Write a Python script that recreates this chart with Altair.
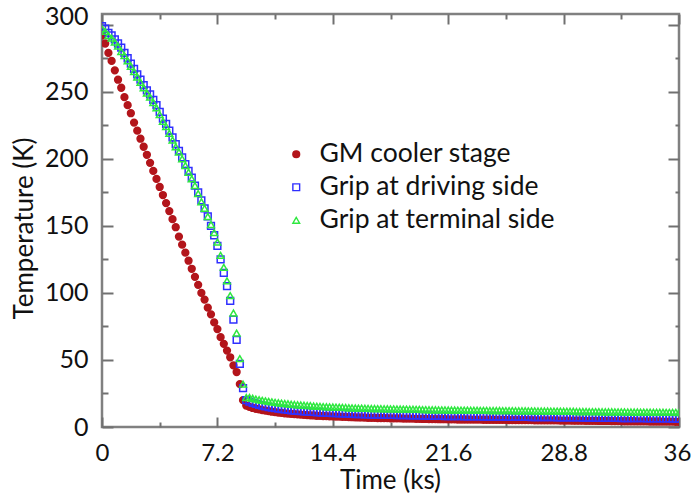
import altair as alt
import pandas as pd

FONT = "Lato"

series_names = ["GM cooler stage", "Grip at driving side", "Grip at terminal side"]
stroke_colors = ["#b3151b", "#2f2fff", "#2ee83f"]
fill_colors = ["#b3151b", "transparent", "transparent"]
shapes = ["circle", "square", "triangle-up"]
sizes = [46, 46, 64]

# time grid (ks)
times_decline = [0.0, 0.2, 0.4, 0.6, 0.8, 1.0, 1.2, 1.4, 1.6, 1.8,
                 2.0, 2.2, 2.4, 2.6, 2.8, 3.0, 3.2, 3.4, 3.6, 3.8,
                 4.0, 4.2, 4.4, 4.6, 4.8, 5.0, 5.2, 5.4, 5.6, 5.8,
                 6.0, 6.2, 6.4, 6.6, 6.8, 7.0, 7.2, 7.4, 7.6, 7.8,
                 8.0, 8.2, 8.4, 8.6, 8.8, 9.0]
times_tail = [9.2, 9.4, 9.6, 9.8, 10.0, 10.2, 10.4, 10.6, 10.8, 11.0,
              11.2, 11.4, 11.6, 11.8, 12.0, 12.2, 12.4, 12.6, 12.8, 13.0,
              13.2, 13.4, 13.6, 13.8, 14.0, 14.2, 14.4, 14.6, 14.8, 15.0,
              15.2, 15.4, 15.6, 15.8, 16.0, 16.2, 16.4, 16.6, 16.8, 17.0,
              17.2, 17.4, 17.6, 17.8, 18.0, 18.2, 18.4, 18.6, 18.8, 19.0,
              19.2, 19.4, 19.6, 19.8, 20.0, 20.2, 20.4, 20.6, 20.8, 21.0,
              21.2, 21.4, 21.6, 21.8, 22.0, 22.2, 22.4, 22.6, 22.8, 23.0,
              23.2, 23.4, 23.6, 23.8, 24.0, 24.2, 24.4, 24.6, 24.8, 25.0,
              25.2, 25.4, 25.6, 25.8, 26.0, 26.2, 26.4, 26.6, 26.8, 27.0,
              27.2, 27.4, 27.6, 27.8, 28.0, 28.2, 28.4, 28.6, 28.8, 29.0,
              29.2, 29.4, 29.6, 29.8, 30.0, 30.2, 30.4, 30.6, 30.8, 31.0,
              31.2, 31.4, 31.6, 31.8, 32.0, 32.2, 32.4, 32.6, 32.8, 33.0,
              33.2, 33.4, 33.6, 33.8, 34.0, 34.2, 34.4, 34.6, 34.8, 35.0,
              35.2, 35.4, 35.6, 35.8, 36.0]

# temperatures (K)
gm_decline = [292, 286, 279, 273, 266, 259, 253, 246, 240, 234,
              227, 221, 215, 209, 203, 197, 191, 185, 179, 173,
              167, 161, 155, 149, 142, 136, 130, 124, 118, 112,
              106, 100, 95, 89, 84, 78, 73, 67, 62, 57,
              52, 46, 41, 32, 20, 16]
gm_tail = [15.0, 14.2, 13.6, 13.1, 12.6, 12.2, 11.8, 11.4, 11.1, 10.8,
           10.5, 10.2, 10.0, 9.8, 9.6, 9.4, 9.2, 9.0, 8.9, 8.7,
           8.6, 8.4, 8.3, 8.2, 8.1, 8.0, 7.9, 7.8, 7.7, 7.6,
           7.5, 7.4, 7.3, 7.2, 7.1, 7.1, 7.0, 6.9, 6.8, 6.8,
           6.7, 6.7, 6.6, 6.6, 6.5, 6.5, 6.4, 6.4, 6.3, 6.3,
           6.2, 6.2, 6.1, 6.1, 6.0, 6.0, 5.9, 5.9, 5.9, 5.8,
           5.8, 5.8, 5.7, 5.7, 5.7, 5.6, 5.6, 5.6, 5.6, 5.5,
           5.5, 5.5, 5.5, 5.4, 5.4, 5.4, 5.4, 5.3, 5.3, 5.3,
           5.3, 5.2, 5.2, 5.2, 5.2, 5.1, 5.1, 5.1, 5.1, 5.0,
           5.0, 5.0, 5.0, 4.9, 4.9, 4.9, 4.9, 4.8, 4.8, 4.8,
           4.8, 4.7, 4.7, 4.7, 4.7, 4.6, 4.6, 4.6, 4.6, 4.5,
           4.5, 4.5, 4.5, 4.4, 4.4, 4.4, 4.4, 4.3, 4.3, 4.3,
           4.3, 4.2, 4.2, 4.2, 4.2, 4.1, 4.1, 4.1, 4.1, 4.0,
           4.0, 4.0, 4.0, 3.9, 3.9]

drive_decline = [299, 297, 294, 292, 289, 286, 283, 279, 275, 271,
                 267, 263, 259, 255, 251, 248, 244, 240, 235, 230,
                 226, 221, 216, 211, 206, 201, 196, 191, 186, 180,
                 175, 169, 163, 157, 150, 143, 135, 125, 115, 105,
                 94, 80, 65, 47, 29, 20]
drive_tail = [19.0, 18.0, 17.2, 16.5, 15.9, 15.4, 14.9, 14.5, 14.1, 13.7,
              13.4, 13.1, 12.8, 12.5, 12.3, 12.1, 11.9, 11.7, 11.5, 11.3,
              11.2, 11.0, 10.9, 10.7, 10.6, 10.5, 10.4, 10.3, 10.2, 10.1,
              10.0, 9.9, 9.8, 9.7, 9.6, 9.6, 9.5, 9.4, 9.3, 9.3,
              9.2, 9.2, 9.1, 9.1, 9.0, 9.0, 8.9, 8.9, 8.8, 8.8,
              8.7, 8.7, 8.6, 8.6, 8.5, 8.5, 8.4, 8.4, 8.3, 8.3,
              8.3, 8.2, 8.2, 8.2, 8.1, 8.1, 8.1, 8.0, 8.0, 8.0,
              7.9, 7.9, 7.9, 7.8, 7.8, 7.8, 7.8, 7.7, 7.7, 7.7,
              7.6, 7.6, 7.6, 7.6, 7.5, 7.5, 7.5, 7.5, 7.4, 7.4,
              7.4, 7.4, 7.3, 7.3, 7.3, 7.3, 7.2, 7.2, 7.2, 7.2,
              7.1, 7.1, 7.1, 7.1, 7.0, 7.0, 7.0, 7.0, 6.9, 6.9,
              6.9, 6.9, 6.8, 6.8, 6.8, 6.8, 6.7, 6.7, 6.7, 6.7,
              6.6, 6.6, 6.6, 6.6, 6.5, 6.5, 6.5, 6.5, 6.4, 6.4,
              6.4, 6.4, 6.3, 6.3, 6.3]

term_decline = [297, 295, 292, 290, 287, 284, 280, 277, 273, 269,
                265, 261, 257, 253, 249, 246, 242, 238, 233, 228,
                224, 219, 214, 209, 205, 200, 195, 190, 185, 180,
                174, 168, 163, 157, 151, 145, 138, 128, 119, 109,
                98, 85, 70, 51, 32, 22]
term_tail = [22.0, 21.4, 20.8, 20.3, 19.9, 19.5, 19.1, 18.7, 18.4, 18.1,
             17.8, 17.5, 17.3, 17.0, 16.8, 16.6, 16.4, 16.2, 16.0, 15.9,
             15.7, 15.5, 15.4, 15.2, 15.1, 15.0, 14.9, 14.8, 14.7, 14.6,
             14.5, 14.4, 14.3, 14.2, 14.1, 14.1, 14.0, 13.9, 13.8, 13.8,
             13.7, 13.7, 13.6, 13.6, 13.5, 13.5, 13.4, 13.4, 13.3, 13.3,
             13.2, 13.2, 13.1, 13.1, 13.0, 13.0, 12.9, 12.9, 12.9, 12.8,
             12.8, 12.8, 12.7, 12.7, 12.7, 12.6, 12.6, 12.6, 12.6, 12.5,
             12.5, 12.5, 12.4, 12.4, 12.4, 12.3, 12.3, 12.3, 12.3, 12.2,
             12.2, 12.2, 12.2, 12.1, 12.1, 12.1, 12.1, 12.0, 12.0, 12.0,
             11.9, 11.9, 11.9, 11.9, 11.8, 11.8, 11.8, 11.8, 11.7, 11.7,
             11.7, 11.7, 11.6, 11.6, 11.6, 11.6, 11.5, 11.5, 11.5, 11.5,
             11.4, 11.4, 11.4, 11.4, 11.3, 11.3, 11.3, 11.3, 11.2, 11.2,
             11.2, 11.2, 11.1, 11.1, 11.1, 11.1, 11.0, 11.0, 11.0, 11.0,
             10.9, 10.9, 10.9, 10.9, 10.8]

x_tick_values = [0, 3.6, 7.2, 10.8, 14.4, 18, 21.6, 25.2, 28.8, 32.4, 36]
y_tick_values = [0, 25, 50, 75, 100, 125, 150, 175, 200, 225, 250, 275, 300]

times = times_decline + times_tail
rows = []
for name, vals in [(series_names[0], gm_decline + gm_tail),
                   (series_names[1], drive_decline + drive_tail),
                   (series_names[2], term_decline + term_tail)]:
    for t, v in zip(times, vals):
        rows.append({"t": t, "T": v, "series": name})
df = pd.DataFrame(rows)

TICK_COLOR = "#707070"
x_major_test = "round(datum.value*10) % 72 === 0"
y_major_test = "datum.value % 50 === 0"

xscale = alt.Scale(domain=[0, 36], nice=False, zero=False)
yscale = alt.Scale(domain=[0, 308], nice=False, zero=False)

legend = alt.Legend(title=None, orient="none", legendX=181, legendY=127,
                    labelFont=FONT, labelFontSize=26.5, labelColor="#111111",
                    symbolSize=80, symbolStrokeWidth=1.4, rowPadding=6,
                    labelOffset=10, labelLimit=600, padding=0)

points = alt.Chart(df).mark_point(filled=False, strokeWidth=1.5, clip=True, opacity=1).encode(
    x=alt.X("t:Q", scale=xscale,
            axis=alt.Axis(orient="bottom", values=x_tick_values, domain=False, grid=False,
                          tickSize=alt.expr(f"{x_major_test} ? -10 : -5"),
                          tickColor=TICK_COLOR, tickWidth=2,
                          labelExpr=f"{x_major_test} ? format(datum.value, '~g') : ''",
                          labelOffset=alt.expr("datum.value === 36 ? -2 : 0"),
                          labelFont=FONT, labelFontSize=24, labelColor="#111111",
                          labelPadding=43, labelBaseline="alphabetic", labelAlign="center",
                          labelFlush=False, labelOverlap=False,
                          title="Time (ks)", titleFont=FONT, titleFontSize=26,
                          titleFontWeight="normal", titleColor="#111111",
                          titleX=288, titleY=61, titleBaseline="alphabetic", titleAlign="center")),
    y=alt.Y("T:Q", scale=yscale,
            axis=alt.Axis(orient="left", values=y_tick_values, domain=False, grid=False,
                          tickSize=alt.expr(f"{y_major_test} ? -11 : -6"),
                          tickColor=TICK_COLOR, tickWidth=2,
                          labelExpr=f"{y_major_test} ? datum.label : ''",
                          labelOffset=alt.expr("datum.value === 300 ? -8 : 0"),
                          labelFont=FONT, labelFontSize=25, labelColor="#111111",
                          labelPadding=25, labelFlush=False, labelOverlap=False,
                          title="Temperature (K)", titleFont=FONT, titleFontSize=26,
                          titleFontWeight="normal", titleColor="#111111",
                          titleX=-70, titleY=214, titleAngle=270,
                          titleBaseline="alphabetic", titleAlign="center")),
    color=alt.Color("series:N", scale=alt.Scale(domain=series_names, range=stroke_colors), legend=legend),
    fill=alt.Fill("series:N", scale=alt.Scale(domain=series_names, range=fill_colors), legend=legend),
    shape=alt.Shape("series:N", scale=alt.Scale(domain=series_names, range=shapes), legend=legend),
    size=alt.Size("series:N", scale=alt.Scale(domain=series_names, range=sizes), legend=None),
)

mirror = alt.Chart(df).mark_point(opacity=0, size=1).encode(
    x=alt.X("t:Q", scale=xscale,
            axis=alt.Axis(orient="top", values=x_tick_values, domain=False, grid=False,
                          labels=False, title=None,
                          tickSize=alt.expr(f"{x_major_test} ? -10 : -5"),
                          tickColor=TICK_COLOR, tickWidth=2)),
    y=alt.Y("T:Q", scale=yscale,
            axis=alt.Axis(orient="right", values=y_tick_values, domain=False, grid=False,
                          labels=False, title=None,
                          tickSize=alt.expr(f"{y_major_test} ? -11 : -4"),
                          tickColor=TICK_COLOR, tickWidth=2)),
)

chart = alt.layer(points, mirror).resolve_axis(x="independent", y="independent").properties(
    width=577, height=413,
    autosize=alt.AutoSizeParams(type="none"),
    padding={"left": 102, "top": 14, "right": 13, "bottom": 72},
    background="white",
).configure_view(stroke="#808080", strokeWidth=2.5)

chart.save("out.html", embed_options={"renderer": "svg", "actions": False})
